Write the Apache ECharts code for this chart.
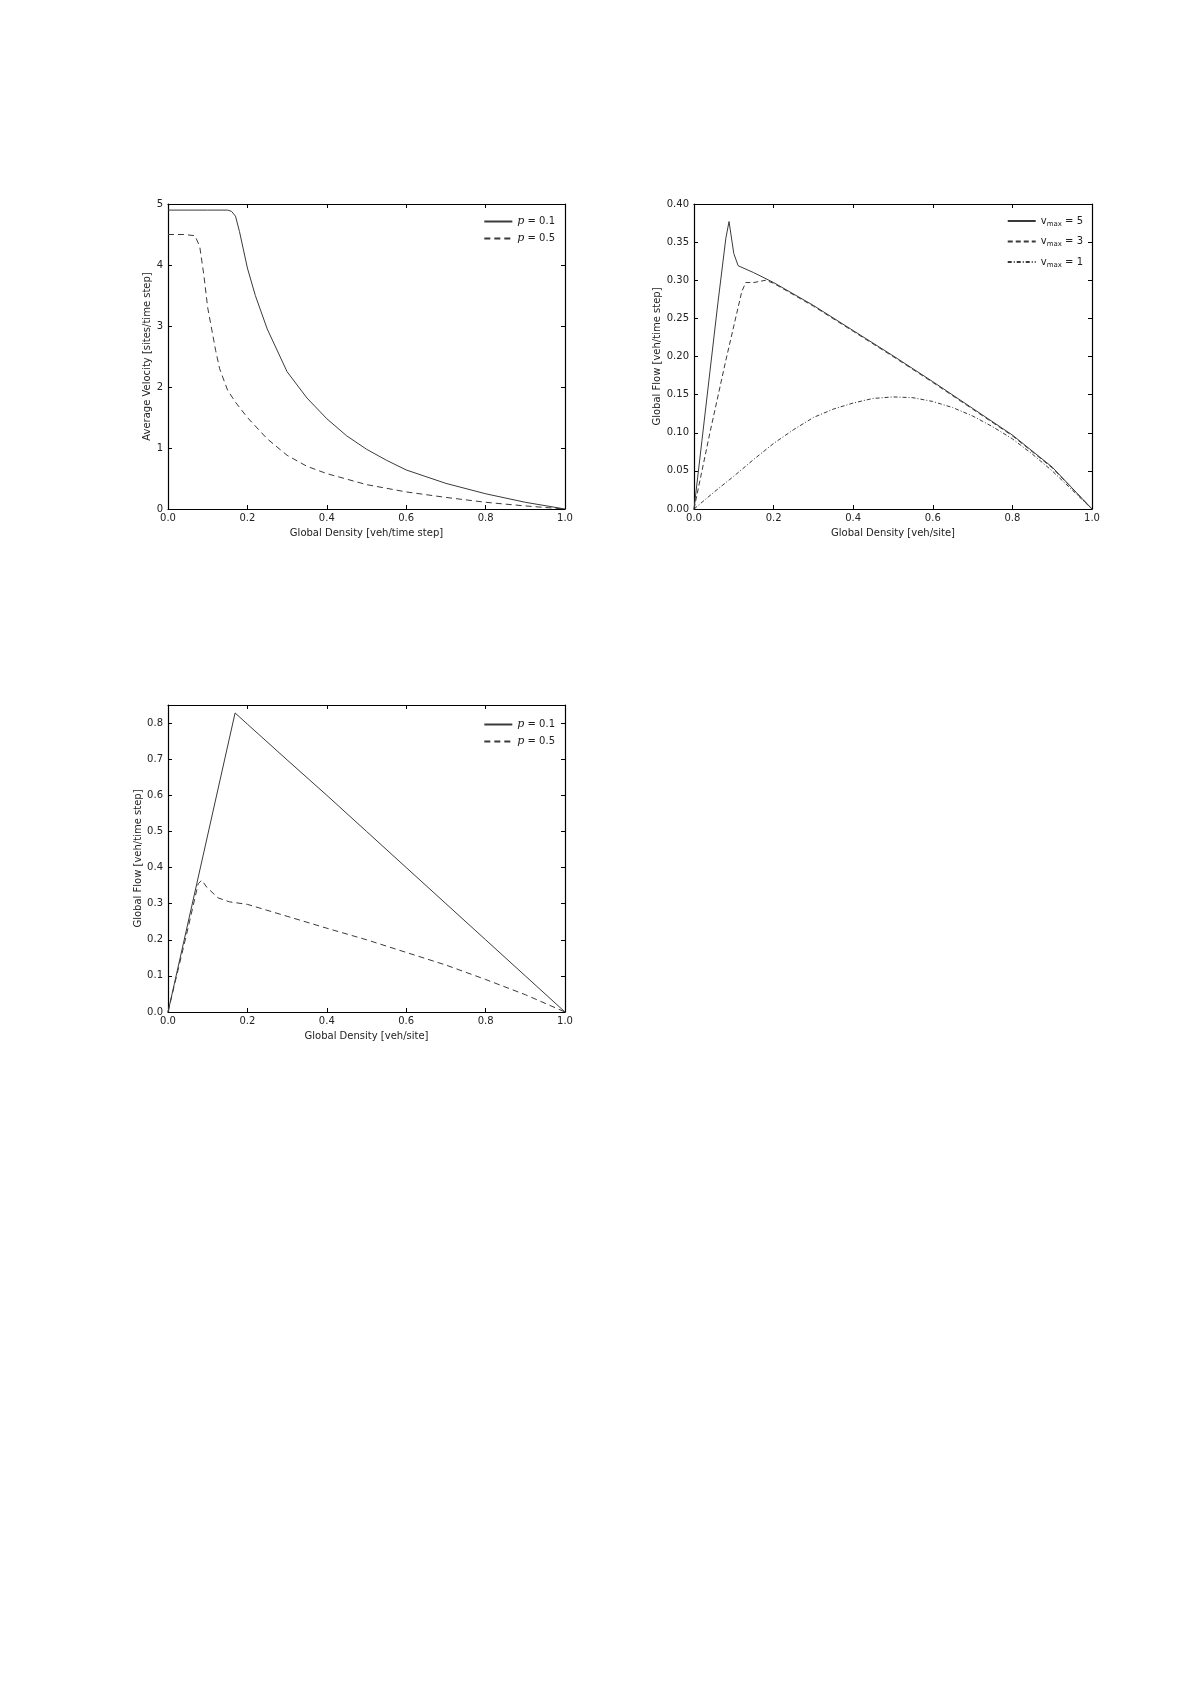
<!DOCTYPE html>
<html>
<head>
<meta charset="utf-8">
<script src="https://cdn.jsdelivr.net/npm/echarts@6/dist/echarts.min.js"></script>
<style>
  html, body { margin: 0; padding: 0; background: #fff; }
  #main { width: 1192px; height: 1685px; }
</style>
</head>
<body>
<div id="main"></div>
<script>
// chart 1: average velocity vs density
var velDensP1 = [0, 0.05, 0.1, 0.15, 0.16, 0.17, 0.18, 0.2, 0.22, 0.25, 0.3, 0.35, 0.4, 0.45, 0.5, 0.55, 0.6, 0.7, 0.8, 0.9, 1.0];
var velP1 = [4.9, 4.9, 4.9, 4.9, 4.88, 4.8, 4.55, 3.95, 3.5, 2.95, 2.25, 1.82, 1.48, 1.2, 0.98, 0.8, 0.64, 0.42, 0.25, 0.11, 0];
var velDensP5 = [0, 0.04, 0.068, 0.08, 0.09, 0.1, 0.11, 0.12, 0.13, 0.15, 0.17, 0.2, 0.25, 0.3, 0.35, 0.4, 0.5, 0.6, 0.7, 0.8, 0.9, 1.0];
var velP5 = [4.5, 4.5, 4.48, 4.3, 3.85, 3.3, 2.95, 2.6, 2.3, 1.95, 1.75, 1.5, 1.15, 0.88, 0.7, 0.58, 0.4, 0.28, 0.19, 0.11, 0.05, 0];

// chart 2: flow vs density for several vmax
var flowDensV5 = [0, 0.02, 0.04, 0.06, 0.08, 0.088, 0.1, 0.111, 0.15, 0.2, 0.3, 0.4, 0.5, 0.6, 0.7, 0.8, 0.9, 1.0];
var flowV5 = [0, 0.09, 0.18, 0.27, 0.355, 0.377, 0.335, 0.319, 0.31, 0.297, 0.267, 0.234, 0.201, 0.167, 0.132, 0.097, 0.055, 0];
var flowDensV3 = [0, 0.04, 0.08, 0.1, 0.12, 0.13, 0.15, 0.18, 0.2, 0.3, 0.4, 0.5, 0.6, 0.7, 0.8, 0.9, 1.0];
var flowV3 = [0, 0.1, 0.195, 0.24, 0.285, 0.297, 0.297, 0.3, 0.296, 0.266, 0.233, 0.2, 0.166, 0.131, 0.096, 0.054, 0];
var flowDensV1 = [0, 0.05, 0.1, 0.15, 0.2, 0.25, 0.3, 0.35, 0.4, 0.45, 0.5, 0.55, 0.6, 0.65, 0.7, 0.75, 0.8, 0.85, 0.9, 0.95, 1.0];
var flowV1 = [0, 0.022, 0.043, 0.065, 0.086, 0.104, 0.12, 0.131, 0.139, 0.145, 0.147, 0.146, 0.141, 0.133, 0.122, 0.108, 0.092, 0.072, 0.05, 0.025, 0];

// chart 3: flow vs density for p
var fdDensP1 = [0, 0.169, 0.2, 0.3, 0.4, 0.5, 0.6, 0.7, 0.8, 0.9, 1.0];
var fdP1 = [0, 0.828, 0.797, 0.698, 0.6, 0.5, 0.4, 0.3, 0.2, 0.1, 0];
var fdDensP5 = [0, 0.05, 0.076, 0.085, 0.098, 0.126, 0.155, 0.2, 0.3, 0.4, 0.5, 0.6, 0.7, 0.8, 0.9, 1.0];
var fdP5 = [0, 0.23, 0.355, 0.365, 0.345, 0.316, 0.305, 0.298, 0.265, 0.232, 0.2, 0.165, 0.13, 0.09, 0.048, 0];

function pairs(xs, ys) {
  var out = [];
  for (var i = 0; i < xs.length; i++) out.push([xs[i], ys[i]]);
  return out;
}

var fontFam = 'DejaVu Sans';
var lineCol = '#3a3a3a';

var grids = [
  { left: 168, top: 204, width: 397, height: 305 },
  { left: 694, top: 204, width: 398, height: 305 },
  { left: 168, top: 705, width: 397, height: 307 }
];

var tickIn = { show: true, inside: true, length: 4, lineStyle: { color: '#000' } };
var axLine = { show: true, onZero: false, lineStyle: { color: '#000', width: 1.2 } };

function xAxes(gi, name) {
  return [
    {
      type: 'value', gridIndex: gi, min: 0, max: 1, interval: 0.2, position: 'bottom',
      name: name, nameLocation: 'middle', nameGap: 19,
      nameTextStyle: { color: '#222', fontSize: 10, fontFamily: fontFam },
      axisLine: axLine, axisTick: tickIn, splitLine: { show: false },
      axisLabel: { color: '#222', fontSize: 10, fontFamily: fontFam, margin: 4,
        formatter: function (v) { return v.toFixed(1); } }
    },
    {
      type: 'value', gridIndex: gi, min: 0, max: 1, interval: 0.2, position: 'top',
      axisLine: axLine, axisTick: tickIn, splitLine: { show: false }, axisLabel: { show: false }
    }
  ];
}

function yAxes(gi, name, max, interval, fmt, gap) {
  return [
    {
      type: 'value', gridIndex: gi, min: 0, max: max, interval: interval, position: 'left',
      name: name, nameLocation: 'middle', nameGap: gap,
      nameTextStyle: { color: '#222', fontSize: 10, fontFamily: fontFam },
      axisLine: axLine, axisTick: tickIn, splitLine: { show: false },
      axisLabel: { color: '#222', fontSize: 10, fontFamily: fontFam, margin: 5, formatter: fmt }
    },
    {
      type: 'value', gridIndex: gi, min: 0, max: max, interval: interval, position: 'right',
      axisLine: axLine, axisTick: tickIn, splitLine: { show: false }, axisLabel: { show: false }
    }
  ];
}

function lineSeries(name, gi, data, dash) {
  return {
    name: name, type: 'line', xAxisIndex: gi * 2, yAxisIndex: gi * 2,
    data: data, showSymbol: false, symbol: 'none', animation: false,
    lineStyle: { color: lineCol, width: 1, type: dash },
    itemStyle: { color: lineCol }
  };
}

var legendText = { color: '#222', fontSize: 10, fontFamily: fontFam,
  rich: { i: { fontStyle: 'italic', fontSize: 11, fontFamily: 'DejaVu Serif', color: '#222' },
          s: { fontSize: 7, fontFamily: fontFam, color: '#222', padding: [6, 0, 0, 0] } } };

function legendBox(names, right, top, gap, fmt) {
  return {
    data: names, right: right, top: top, orient: 'vertical',
    itemWidth: 28, itemHeight: 8, itemGap: gap, textStyle: legendText,
    itemStyle: { opacity: 0 },
    formatter: fmt
  };
}

var myChart = echarts.init(document.getElementById('main'), null, { renderer: 'canvas' });
var option = {
  backgroundColor: '#fff',
  animation: false,
  grid: grids,
  xAxis: [].concat(
    xAxes(0, 'Global Density [veh/time step]'),
    xAxes(1, 'Global Density [veh/site]'),
    xAxes(2, 'Global Density [veh/site]')
  ),
  yAxis: [].concat(
    yAxes(0, 'Average Velocity [sites/time step]', 5, 1, function (v) { return String(v); }, 16),
    yAxes(1, 'Global Flow [veh/time step]', 0.4, 0.05, function (v) { return v.toFixed(2); }, 32),
    yAxes(2, 'Global Flow [veh/time step]', 0.85, 0.1, function (v) {
      return Math.abs(v - 0.85) < 1e-6 ? '' : v.toFixed(1);
    }, 24)
  ),
  legend: [
    legendBox(['p1a', 'p5a'], 1192 - 560, 211, 6,
      function (n) { return n === 'p1a' ? '{i|p} = 0.1' : '{i|p} = 0.5'; }),
    legendBox(['v_max = 5', 'v_max = 3', 'v_max = 1'], 1192 - 1088, 211, 9,
      function (n) { return n.replace('v_max', 'v{s|max}'); }),
    legendBox(['p1c', 'p5c'], 1192 - 560, 714, 6,
      function (n) { return n === 'p1c' ? '{i|p} = 0.1' : '{i|p} = 0.5'; })
  ],
  series: [
    lineSeries('p1a', 0, pairs(velDensP1, velP1), 'solid'),
    lineSeries('p5a', 0, pairs(velDensP5, velP5), [6, 4]),
    lineSeries('v_max = 5', 1, pairs(flowDensV5, flowV5), 'solid'),
    lineSeries('v_max = 3', 1, pairs(flowDensV3, flowV3), [5, 3]),
    lineSeries('v_max = 1', 1, pairs(flowDensV1, flowV1), [4, 2, 1, 2]),
    lineSeries('p1c', 2, pairs(fdDensP1, fdP1), 'solid'),
    lineSeries('p5c', 2, pairs(fdDensP5, fdP5), [6, 4])
  ]
};
myChart.setOption(option);
</script>
</body>
</html>
